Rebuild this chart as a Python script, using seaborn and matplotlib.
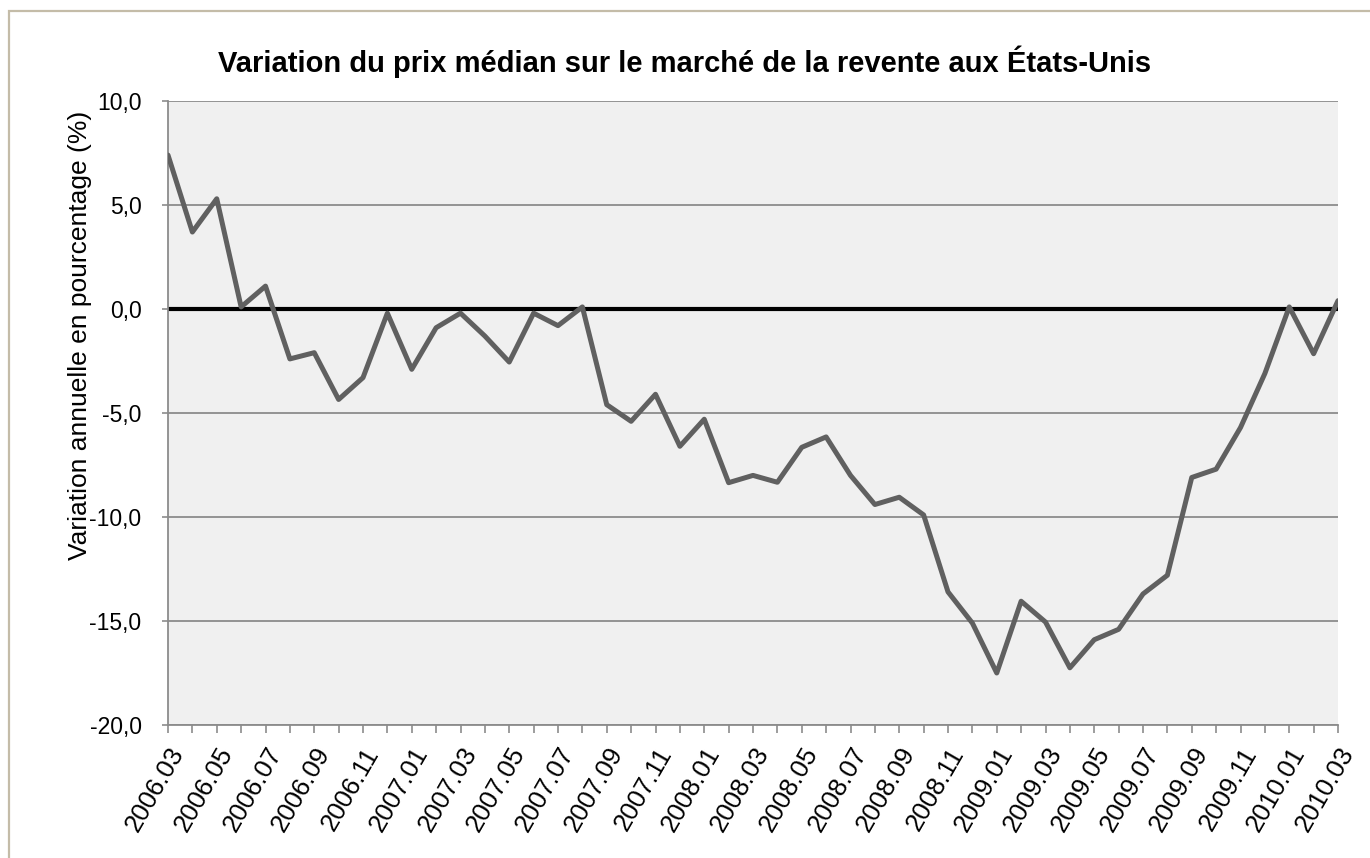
import matplotlib
matplotlib.use('Agg')
import matplotlib.pyplot as plt
import seaborn as sns
import pandas as pd
from matplotlib.patches import Rectangle

# 月份（2006.03 - 2010.03）
months = ['2006.03', '2006.04', '2006.05', '2006.06', '2006.07', '2006.08', '2006.09',
          '2006.10', '2006.11', '2006.12', '2007.01', '2007.02', '2007.03', '2007.04',
          '2007.05', '2007.06', '2007.07', '2007.08', '2007.09', '2007.10', '2007.11',
          '2007.12', '2008.01', '2008.02', '2008.03', '2008.04', '2008.05', '2008.06',
          '2008.07', '2008.08', '2008.09', '2008.10', '2008.11', '2008.12', '2009.01',
          '2009.02', '2009.03', '2009.04', '2009.05', '2009.06', '2009.07', '2009.08',
          '2009.09', '2009.10', '2009.11', '2009.12', '2010.01', '2010.02', '2010.03']

# 年度变化率 (%)
variation = [7.4, 3.7, 5.3, 0.1, 1.1, -2.4, -2.1, -4.35, -3.3, -0.2,
             -2.9, -0.9, -0.2, -1.3, -2.55, -0.2, -0.8, 0.1, -4.6, -5.4,
             -4.1, -6.6, -5.3, -8.35, -8.0, -8.33, -6.65, -6.15, -8.0, -9.4,
             -9.05, -9.9, -13.6, -15.1, -17.5, -14.05, -15.05, -17.25, -15.9, -15.4,
             -13.7, -12.8, -8.1, -7.7, -5.7, -3.1, 0.1, -2.15, 0.4]

yticks = [10, 5, 0, -5, -10, -15, -20]

df = pd.DataFrame({'idx': range(len(months)), 'month': months, 'value': variation})

sns.set_theme(style='white')
plt.rcParams['font.family'] = ['Liberation Sans', 'DejaVu Sans']

fig = plt.figure(figsize=(13.7, 8.58), dpi=100)
ax = fig.add_axes([168 / 1370, 1 - 725 / 858, (1338 - 168) / 1370, (725 - 101) / 858])
ax.set_facecolor('#F0F0F0')

# 外框
fig.patches.append(Rectangle((9 / 1370, -0.1), 1.2, 1 - 11 / 858 + 0.1,
                             transform=fig.transFigure, fill=False,
                             edgecolor='#C4BCA8', lw=1.6, zorder=0))

for yv in yticks:
    if yv != 0:
        ax.axhline(yv, color='#8C8C8C', lw=1.3, zorder=1)
ax.axhline(0, color='black', lw=3.0, zorder=2)

sns.lineplot(data=df, x='idx', y='value', ax=ax, color='#606060', lw=3.6, zorder=3)

ax.set_xlim(0, len(months) - 1)
ax.set_ylim(-20, 10)
ax.set_yticks(yticks)
ax.set_yticklabels([f'{v:.1f}'.replace('.', ',') for v in yticks], fontsize=16.5, color='black')
ax.set_xticks(range(0, len(months), 2))
ax.set_xticklabels(months[::2], rotation=60, ha='right', rotation_mode='anchor',
                   fontsize=18.5, color='black')
ax.set_xticks(range(len(months)), minor=True)

for s in ['top', 'right']:
    ax.spines[s].set_visible(False)
for s in ['left', 'bottom']:
    ax.spines[s].set_color('#8C8C8C')
    ax.spines[s].set_linewidth(1.3)

ax.tick_params(axis='x', which='both', direction='out', length=6, width=1.2,
               color='#8C8C8C', bottom=True, pad=7)
ax.tick_params(axis='y', direction='out', length=4, width=1.2, color='#8C8C8C',
               left=True, pad=15)

ax.set_xlabel('')
ax.set_ylabel('')
fig.text(80 / 1370, 1 - 335 / 858, 'Variation annuelle en pourcentage (%)',
         rotation=90, ha='center', va='center', fontsize=19, color='black')
fig.text(0.5, 1 - 62 / 858, 'Variation du prix médian sur le marché de la revente aux États-Unis',
         ha='center', va='center', fontsize=21, fontweight='bold', color='black')

plt.savefig('out.png', dpi=100)
